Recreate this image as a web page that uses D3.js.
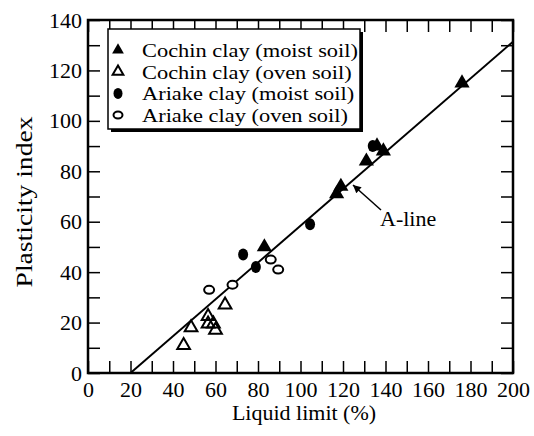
<!DOCTYPE html>
<html>
<head>
<meta charset="utf-8">
<script src="https://cdn.jsdelivr.net/npm/d3@7"></script>
<style>
  body { margin: 0; background: #fff; }
</style>
</head>
<body>
<svg id="chart" width="534" height="436"></svg>
<script>
// data: [liquid limit, plasticity index]
const cochinMoist = [[83, 50], [117, 71], [119, 74], [131, 84], [136, 90], [139, 88], [176, 115]];
const cochinOven = [[45, 11], [48.5, 18], [56.5, 22.5], [56.5, 19.5], [59, 19.5], [60, 17], [64.5, 27]];
const ariakeMoist = [[73, 47], [79, 42], [104.5, 59], [134, 90]];
const ariakeOven = [[57, 33], [68, 35], [86, 45], [89.5, 41]];
const aLine = [[20, 0], [200, 131.4]];
const legendLabels = ["Cochin clay (moist soil)", "Cochin clay (oven soil)", "Ariake clay (moist soil)", "Ariake clay (oven soil)"];
const xTicks = d3.range(0, 201, 10);
const yTicks = d3.range(0, 141, 10);

const FONT = '"Liberation Serif", "Times New Roman", Times, "DejaVu Serif", serif';

const svg = d3.select('#chart');
const x = d3.scaleLinear().domain([0, 200]).range([88, 513]);
const y = d3.scaleLinear().domain([0, 140]).range([373, 20]);

const fmt = d => d % 20 === 0 ? d : '';

function styleAxis(g) {
    g.attr('font-family', null);
    g.select('.domain').remove();
    g.selectAll('line').attr('stroke', '#000').attr('stroke-width', 1.5);
    g.selectAll('text').attr('fill', '#000').style('font-family', FONT).style('font-size', '22px');
}

svg.append('g').attr('transform', 'translate(0,373)')
    .call(d3.axisBottom(x).tickValues(xTicks).tickFormat(fmt).tickSizeInner(-12).tickSizeOuter(0).tickPadding(8))
    .call(styleAxis);
svg.append('g').attr('transform', 'translate(0,20)')
    .call(d3.axisTop(x).tickValues(xTicks).tickFormat('').tickSizeInner(-12).tickSizeOuter(0))
    .call(styleAxis);
svg.append('g').attr('transform', 'translate(88,0)')
    .call(d3.axisLeft(y).tickValues(yTicks).tickFormat(fmt).tickSizeInner(-12).tickSizeOuter(0).tickPadding(6))
    .call(styleAxis);
svg.append('g').attr('transform', 'translate(513,0)')
    .call(d3.axisRight(y).tickValues(yTicks).tickFormat('').tickSizeInner(-12).tickSizeOuter(0))
    .call(styleAxis);

// frame
svg.append('rect')
    .attr('x', x(0)).attr('y', y(140))
    .attr('width', x(200) - x(0)).attr('height', y(0) - y(140))
    .attr('fill', 'none').attr('stroke', '#000').attr('stroke-width', 2.5);

// A-line
svg.append('path')
    .datum(aLine)
    .attr('d', d3.line().x(d => x(d[0])).y(d => y(d[1])))
    .attr('fill', 'none').attr('stroke', '#000').attr('stroke-width', 2);

// markers
const tri = d3.symbol().type(d3.symbolTriangle);

svg.append('g').selectAll('path').data(cochinOven).enter().append('path')
    .attr('transform', d => `translate(${x(d[0])},${y(d[1])})`)
    .attr('d', tri.size(70)())
    .attr('fill', 'none').attr('stroke', '#000').attr('stroke-width', 2);

svg.append('g').selectAll('ellipse').data(ariakeOven).enter().append('ellipse')
    .attr('cx', d => x(d[0])).attr('cy', d => y(d[1]))
    .attr('rx', 5).attr('ry', 4)
    .attr('fill', '#fff').attr('stroke', '#000').attr('stroke-width', 2);

svg.append('g').selectAll('ellipse').data(ariakeMoist).enter().append('ellipse')
    .attr('cx', d => x(d[0])).attr('cy', d => y(d[1]))
    .attr('rx', 5).attr('ry', 6)
    .attr('fill', '#000');

svg.append('g').selectAll('path').data(cochinMoist).enter().append('path')
    .attr('transform', d => `translate(${x(d[0])},${y(d[1])})`)
    .attr('d', tri.size(100)())
    .attr('fill', '#000');

// A-line arrow label
svg.append('defs').append('marker')
    .attr('id', 'arrow').attr('viewBox', '0 0 10 10')
    .attr('refX', 10).attr('refY', 5)
    .attr('markerWidth', 10).attr('markerHeight', 8)
    .attr('markerUnits', 'userSpaceOnUse')
    .attr('orient', 'auto')
    .append('path').attr('d', 'M0,0L10,5L0,10Z').attr('fill', '#000');

svg.append('line')
    .attr('x1', 381).attr('y1', 210).attr('x2', 353).attr('y2', 185)
    .attr('stroke', '#000').attr('stroke-width', 1.5)
    .attr('marker-end', 'url(#arrow)');
svg.append('text').attr('x', 380).attr('y', 226)
    .style('font-family', FONT).style('font-size', '22px').text('A-line');

// legend
const lg = svg.append('g');
lg.append('rect').attr('x', 111).attr('y', 32).attr('width', 252).attr('height', 100).attr('fill', '#000');
lg.append('rect').attr('x', 108).attr('y', 29).attr('width', 252).attr('height', 100)
    .attr('fill', '#fff').attr('stroke', '#000').attr('stroke-width', 1.5);

const rows = lg.selectAll('g.row').data(legendLabels).enter().append('g')
    .attr('class', 'row')
    .attr('transform', (d, i) => `translate(118,${50 + i * 21.7})`);
rows.append('text').attr('transform', 'translate(24,7) scale(1.15,1)')
    .style('font-family', FONT).style('font-size', '19.5px').text(d => d);

rows.filter((d, i) => i === 0).append('path').attr('d', tri.size(60)()).attr('fill', '#000');
rows.filter((d, i) => i === 1).append('path').attr('d', tri.size(50)())
    .attr('fill', 'none').attr('stroke', '#000').attr('stroke-width', 2);
rows.filter((d, i) => i === 2).append('ellipse').attr('rx', 4.5).attr('ry', 5.5).attr('fill', '#000');
rows.filter((d, i) => i === 3).append('ellipse').attr('rx', 4.5).attr('ry', 3.5)
    .attr('fill', 'none').attr('stroke', '#000').attr('stroke-width', 2);

// axis titles
svg.append('text').attr('x', 304).attr('y', 420).attr('text-anchor', 'middle')
    .style('font-family', FONT).style('font-size', '22px').text('Liquid limit (%)');
svg.append('text').attr('transform', 'translate(32,202) rotate(-90) scale(1.15,1)').attr('text-anchor', 'middle')
    .style('font-family', FONT).style('font-size', '24px').text('Plasticity index');
</script>
</body>
</html>
